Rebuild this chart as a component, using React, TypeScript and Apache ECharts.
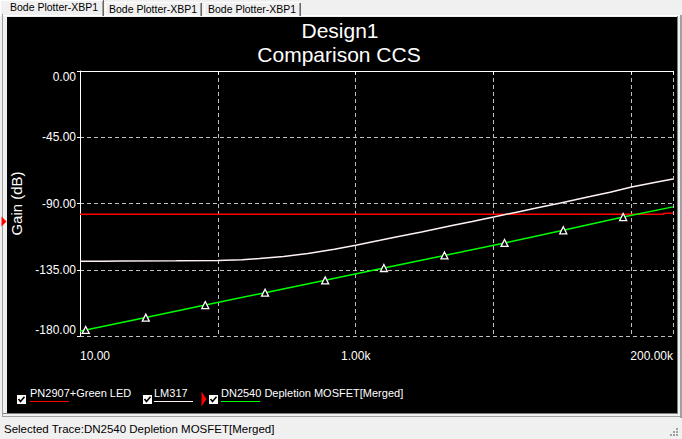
import React, { useEffect, useRef } from 'react';
import * as echarts from 'echarts';

const FONT = "'Liberation Sans', Arial, sans-serif";

const tabLabels = ['Bode Plotter-XBP1', 'Bode Plotter-XBP1', 'Bode Plotter-XBP1'];
const titleLines = ['Design1', 'Comparison CCS'];
const yAxisName = 'Gain (dB)';
const traceNames = ['PN2907+Green LED', 'LM317', 'DN2540 Depletion MOSFET[Merged]'];
const traceColors = ['#ff0000', '#fff2f2', '#00ff00'];
const statusText = 'Selected Trace:DN2540 Depletion MOSFET[Merged]';

const xMin = 10;
const xMax = 200000;
const yMin = -180;
const yMax = 0;
const yStep = 45;
const xLabelValues = [10, 1000, 200000];
const xLabelTexts = ['10.00', '1.00k', '200.00k'];

// PN2907+Green LED (red)
const redFreq = [10, 170000, 172000, 200000];
const redGain = [-97.3, -97.3, -96.6, -96.6];

// LM317 (white)
const whiteFreq = [10, 15, 20, 50, 100, 150, 200, 300, 450, 700, 1000, 1500, 2000, 3000, 5000, 7000, 10000, 15000, 20000, 30000, 50000, 70000, 100000, 150000, 200000];
const whiteGain = [-129.3, -129.2, -129.0, -128.9, -128.8, -128.2, -127.4, -126.0, -124.0, -121.1, -118.3, -115.0, -112.6, -109.3, -105.0, -102.2, -99.2, -95.7, -93.3, -89.8, -85.3, -82.3, -78.8, -75.5, -73.3];

// DN2540 Depletion MOSFET[Merged] (green, triangle markers)
const greenFreq = [10, 11, 30, 81, 220, 600, 1600, 4400, 12000, 32000, 87000, 200000];
const greenGain = [-176.7, -175.9, -167.5, -159.0, -150.6, -142.2, -133.8, -125.3, -116.8, -108.2, -99.2, -92.3];
const greenMarked = [false, true, true, true, true, true, true, true, true, true, true, false];

function line(x1: number, y1: number, x2: number, y2: number, stroke: string, lineWidth = 1) {
  return { type: 'line', silent: true, shape: { x1, y1, x2, y2 }, style: { stroke, lineWidth } };
}

function text(x: number, y: number, t: string, fill: string, fontSize: number, align = 'left') {
  return {
    type: 'text',
    silent: true,
    x,
    y,
    style: {
      text: t,
      fill,
      fontSize,
      fontFamily: FONT,
      textAlign: align,
      align,
      textVerticalAlign: 'middle',
      verticalAlign: 'middle',
    },
  };
}

function checkbox(x: number, y: number) {
  return [
    { type: 'rect', silent: true, shape: { x, y, width: 9, height: 9 }, style: { fill: '#ffffff' } },
    {
      type: 'polyline',
      silent: true,
      shape: { points: [[x + 1.5, y + 4], [x + 3.5, y + 6.5], [x + 7.5, y + 1.8]] },
      style: { stroke: '#000000', lineWidth: 1.6, fill: null },
    },
  ];
}

export default function App() {
  const ref = useRef<HTMLDivElement>(null);

  useEffect(() => {
    if (!ref.current) return;
    const chart = echarts.init(ref.current, undefined, { renderer: 'svg' });

    const near = (a: number, b: number) => Math.abs(a - b) / b < 1e-6;

    const graphic: any[] = [];
    // tabs
    graphic.push(line(0, 0.5, 103, 0.5, '#ffffff'));
    graphic.push(line(0.5, 0, 0.5, 16, '#ffffff'));
    graphic.push(line(102.5, 1, 102.5, 16, '#a0a0a0'));
    graphic.push(line(103.5, 0, 103.5, 16, '#696969'));
    graphic.push(line(106, 2.5, 201, 2.5, '#ffffff'));
    graphic.push(line(105.5, 3, 105.5, 16, '#ffffff'));
    graphic.push(line(200.5, 3, 200.5, 16, '#a0a0a0'));
    graphic.push(line(201.5, 3, 201.5, 16, '#696969'));
    graphic.push(line(205, 2.5, 300, 2.5, '#ffffff'));
    graphic.push(line(204.5, 3, 204.5, 16, '#ffffff'));
    graphic.push(line(299.5, 3, 299.5, 16, '#a0a0a0'));
    graphic.push(line(300.5, 3, 300.5, 16, '#696969'));
    graphic.push(text(10, 6.5, tabLabels[0], '#000000', 10.5));
    graphic.push(text(109, 8.5, tabLabels[1], '#000000', 10.5));
    graphic.push(text(208, 8.5, tabLabels[2], '#000000', 10.5));

    // title
    graphic.push(text(340, 30, titleLines[0], '#ffffff', 21, 'center'));
    graphic.push(text(339, 54, titleLines[1], '#ffffff', 21, 'center'));

    // selected-trace marker on the axis side
    graphic.push({
      type: 'polygon',
      silent: true,
      shape: { points: [[1.5, 216.5], [6.5, 221.5], [1.5, 226.5]] },
      style: { fill: '#ff0000' },
    });

    // legend
    const cbX = [17, 143, 209];
    const txX = [30, 154, 221];
    for (let i = 0; i < 3; i++) {
      graphic.push(...checkbox(cbX[i], 395));
      graphic.push(text(txX[i], 392.5, traceNames[i], '#ffffff', 11));
      graphic.push(line(txX[i], 401.5, txX[i] + 39, 401.5, traceColors[i], 1));
    }
    graphic.push({
      type: 'polygon',
      silent: true,
      shape: { points: [[201.5, 391.5], [206.5, 399], [201.5, 406.5]] },
      style: { fill: '#ff0000' },
    });

    // status bar
    graphic.push(text(4, 429, statusText, '#000000', 11.5));
    const grip = [[676, 428], [673, 431], [676, 431], [670, 434], [673, 434], [676, 434]];
    grip.forEach(([gx, gy]) =>
      graphic.push({ type: 'rect', silent: true, shape: { x: gx, y: gy, width: 2, height: 2 }, style: { fill: '#a0a0a0' } })
    );

    const option: any = {
      animation: false,
      backgroundColor: 'transparent',
      textStyle: { fontFamily: FONT },
      grid: { left: 80, top: 71, width: 593, height: 265, containLabel: false },
      xAxis: {
        type: 'log',
        logBase: 10,
        min: xMin,
        max: xMax,
        axisLine: { show: true, lineStyle: { color: '#ffffff', width: 1 } },
        axisTick: { show: true, length: 3, lineStyle: { color: '#ffffff' } },
        axisLabel: {
          color: '#ffffff',
          fontSize: 12,
          fontFamily: FONT,
          margin: 14,
          showMinLabel: true,
          showMaxLabel: true,
          alignMinLabel: 'left',
          alignMaxLabel: 'right',
          formatter: (v: number) => {
            for (let i = 0; i < xLabelValues.length; i++) {
              if (near(v, xLabelValues[i])) return xLabelTexts[i];
            }
            return '';
          },
        },
        splitLine: { show: true, lineStyle: { color: '#c0c0c0', type: [4, 3], width: 1 } },
      },
      yAxis: {
        type: 'value',
        min: yMin,
        max: yMax,
        interval: yStep,
        name: yAxisName,
        nameLocation: 'middle',
        nameRotate: 90,
        nameGap: 55,
        nameTextStyle: { color: '#ffffff', fontSize: 15, fontFamily: FONT },
        axisLine: { show: true, lineStyle: { color: '#ffffff', width: 1 } },
        axisTick: { show: true, length: 3, lineStyle: { color: '#ffffff' } },
        axisLabel: {
          color: '#ffffff',
          fontSize: 12,
          fontFamily: FONT,
          margin: 4,
          verticalAlignMinLabel: 'bottom',
          verticalAlignMaxLabel: 'top',
          formatter: (v: number) => v.toFixed(2),
        },
        splitLine: { show: true, lineStyle: { color: '#c0c0c0', type: [4, 3], width: 1 } },
      },
      series: [
        {
          name: traceNames[0],
          type: 'line',
          data: redFreq.map((f, i) => [f, redGain[i]]),
          showSymbol: false,
          lineStyle: { color: traceColors[0], width: 1.6 },
          itemStyle: { color: traceColors[0] },
          z: 3,
        },
        {
          name: traceNames[1],
          type: 'line',
          data: whiteFreq.map((f, i) => [f, whiteGain[i]]),
          showSymbol: false,
          lineStyle: { color: traceColors[1], width: 1.5 },
          itemStyle: { color: traceColors[1] },
          z: 3,
        },
        {
          name: traceNames[2],
          type: 'line',
          data: greenFreq.map((f, i) => ({
            value: [f, greenGain[i]],
            symbol: greenMarked[i] ? 'triangle' : 'none',
          })),
          showSymbol: true,
          showAllSymbol: true,
          symbolSize: 7,
          lineStyle: { color: traceColors[2], width: 1.5 },
          itemStyle: { color: '#000000', borderColor: '#ffffff', borderWidth: 1.3 },
          z: 4,
        },
      ],
      graphic,
    };

    chart.setOption(option);
    return () => chart.dispose();
  }, []);

  return (
    <div style={{ position: 'fixed', left: 0, top: 0, width: 682, height: 439, background: '#f0f0f0', overflow: 'hidden' }}>
      <div style={{ position: 'absolute', left: 0, top: 15, width: 682, height: 1, background: '#ffffff' }} />
      <div style={{ position: 'absolute', left: 2, top: 14, width: 1, height: 403, background: '#a0a0a0' }} />
      <div style={{ position: 'absolute', left: 7, top: 17, width: 670, height: 396, background: '#000000' }} />
      <div style={{ position: 'absolute', left: 677, top: 16, width: 1, height: 398, background: '#808080' }} />
      <div style={{ position: 'absolute', left: 680, top: 15, width: 2, height: 403, background: '#a0a0a0' }} />
      <div style={{ position: 'absolute', left: 3, top: 413, width: 675, height: 1, background: '#808080' }} />
      <div style={{ position: 'absolute', left: 2, top: 416, width: 680, height: 1, background: '#a0a0a0' }} />
      <div ref={ref} style={{ position: 'absolute', left: 0, top: 0, width: 682, height: 439 }} />
    </div>
  );
}
